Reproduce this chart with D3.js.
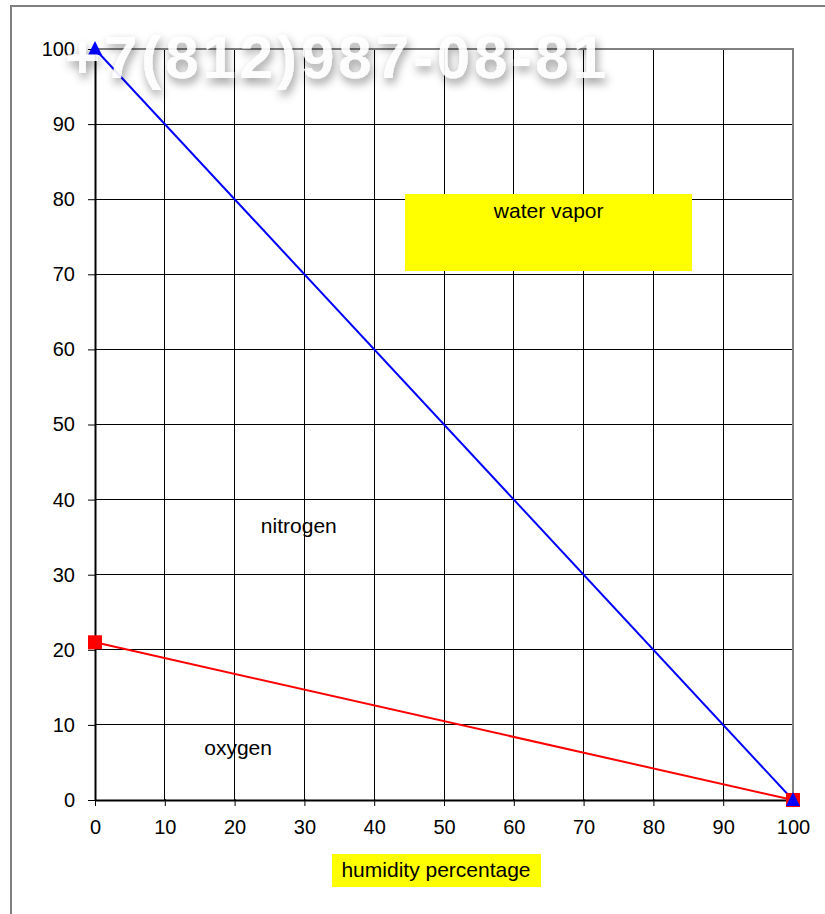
<!DOCTYPE html>
<html><head><meta charset="utf-8">
<script src="https://cdn.jsdelivr.net/npm/d3@7"></script>
<style>body{margin:0;background:#fff}svg{display:block;font-family:"Liberation Sans",Arial,sans-serif}</style>
</head><body><svg id="c" width="825" height="914"></svg>
<script>
const xTicks = [0,10,20,30,40,50,60,70,80,90,100];
const yTicks = [0,10,20,30,40,50,60,70,80,90,100];
const humidity = [0, 100];
const nitrogen = [100, 0];
const oxygen = [21, 0];
const regionLabels = [
  {text:"water vapor", x:65, y:77.5, box:true},
  {text:"nitrogen", x:29.2, y:35.5, box:false},
  {text:"oxygen", x:20.5, y:6.0, box:false}
];
const xTitle = "humidity percentage";
const watermark = "+7(812)987-08-81";

const svg = d3.select("#c");
const x = d3.scaleLinear().domain([0,100]).range([95,793]);
const y = d3.scaleLinear().domain([0,100]).range([800,49]);

// outer frame
svg.append("rect").attr("x",11).attr("y",6).attr("width",830).attr("height",920)
  .attr("fill","none").attr("stroke","#808080").attr("stroke-width",2);

// grid
const g = svg.append("g");
g.selectAll(".vg").data(xTicks.slice(1,-1)).join("line")
  .attr("x1",d=>x(d)).attr("x2",d=>x(d)).attr("y1",y(100)).attr("y2",y(0))
  .attr("stroke","#000").attr("stroke-width",1).attr("shape-rendering","crispEdges");
g.selectAll(".hg").data(yTicks.slice(1,-1)).join("line")
  .attr("y1",d=>y(d)).attr("y2",d=>y(d)).attr("x1",x(0)).attr("x2",x(100))
  .attr("stroke","#000").attr("stroke-width",1).attr("shape-rendering","crispEdges");
g.append("path").attr("d",`M${x(0)},${y(100)}H${x(100)}V${y(0)}`)
  .attr("fill","none").attr("stroke","#808080").attr("stroke-width",2);

// axes
const xa = svg.append("g").attr("transform",`translate(0,${y(0)})`)
  .call(d3.axisBottom(x).tickValues(xTicks).tickSize(6).tickSizeOuter(0).tickPadding(14));
const ya = svg.append("g").attr("transform",`translate(${x(0)},0)`)
  .call(d3.axisLeft(y).tickValues(yTicks).tickSize(7).tickSizeOuter(0).tickPadding(13));
[xa,ya].forEach(a=>{
  a.select(".domain").attr("stroke","#000").attr("stroke-width",2);
  a.selectAll(".tick line").attr("stroke","#000").attr("stroke-width",1);
  a.selectAll("text").attr("font-size",20).attr("fill","#000").attr("font-family","Liberation Sans, Arial, sans-serif");
});
xa.selectAll(".tick line").attr("y1",-1);

// series lines
const line = d3.line().x((d,i)=>x(humidity[i])).y(d=>y(d));
svg.append("path").datum(oxygen).attr("d",line).attr("fill","none").attr("stroke","#ff0000").attr("stroke-width",2);
svg.append("path").datum(nitrogen).attr("d",line).attr("fill","none").attr("stroke","#0000ff").attr("stroke-width",2);
svg.selectAll(".sq").data(oxygen).join("rect")
  .attr("x",(d,i)=>x(humidity[i])-7).attr("y",d=>y(d)-7).attr("width",14).attr("height",14).attr("fill","#ff0000");
svg.selectAll(".tri").data(nitrogen).join("path")
  .attr("transform",(d,i)=>`translate(${x(humidity[i])},${y(d)})`)
  .attr("d","M0,-8L7,6L-7,6Z").attr("fill","#0000ff");

// region labels
regionLabels.forEach(l=>{
  if(l.box){
    svg.append("rect").attr("x",405).attr("y",194).attr("width",287).attr("height",77).attr("fill","#ffff00");
  }
  svg.append("text").attr("x",x(l.x)).attr("y",y(l.y)).attr("text-anchor","middle").attr("font-size",21).text(l.text);
});

// x title
svg.append("rect").attr("x",332).attr("y",854).attr("width",209).attr("height",33).attr("fill","#ffff00");
svg.append("text").attr("x",436).attr("y",877).attr("text-anchor","middle").attr("font-size",21).text(xTitle);

// watermark
const defs = svg.append("defs");
const f = defs.append("filter").attr("id","sh").attr("x","-10%").attr("y","-30%").attr("width","120%").attr("height","170%");
f.append("feDropShadow").attr("dx",2).attr("dy",5).attr("stdDeviation",5).attr("flood-color","#000").attr("flood-opacity",0.45);
svg.append("text").attr("x",65).attr("y",78).attr("font-size",60).attr("font-weight","bold")
  .attr("textLength",541).attr("lengthAdjust","spacing")
  .attr("fill","#fff").attr("fill-opacity",0.9).attr("filter","url(#sh)").text(watermark);
</script></body></html>
